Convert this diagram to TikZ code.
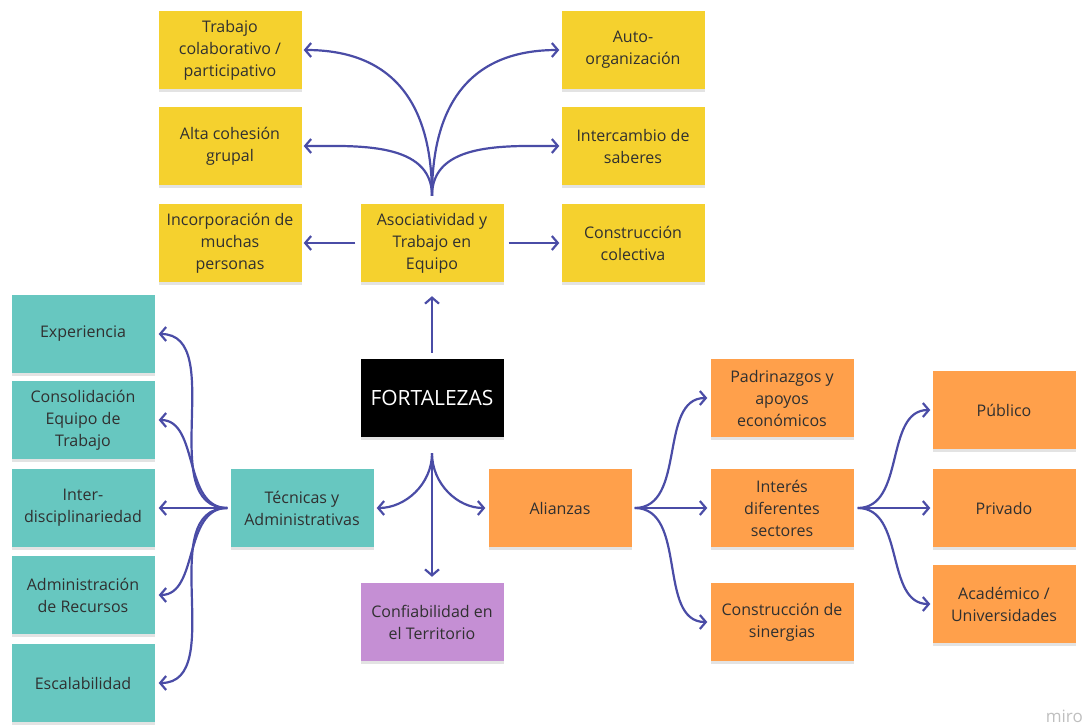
\documentclass[tikz,border=0pt]{standalone}
\usepackage{fontspec}
\setmainfont{Open Sans}
\usetikzlibrary{arrows.meta,shadows}
\definecolor{postyellow}{HTML}{F5D12E}
\definecolor{postteal}{HTML}{67C7C0}
\definecolor{postorange}{HTML}{FFA04B}
\definecolor{postviolet}{HTML}{C58FD4}
\definecolor{linkblue}{HTML}{4A4CA6}
\definecolor{notetext}{HTML}{303030}
\begin{document}
\begin{tikzpicture}[x=1pt, y=-1pt,
		note/.style={minimum width=143pt, minimum height=78pt, inner sep=2pt, align=center,
			font=\fontsize{16}{22}\selectfont, text=notetext,
			drop shadow={shadow xshift=0pt, shadow yshift=-3pt, opacity=.22}},
		yellownote/.style={note, fill=postyellow},
		tealnote/.style={note, fill=postteal},
		orangenote/.style={note, fill=postorange},
		violetnote/.style={note, fill=postviolet},
		darknote/.style={note, fill=black, text=white, font=\fontsize{21}{24}\selectfont},
		arr/.style={draw=linkblue, line width=2.2pt, shorten >=2pt,
			-{Straight Barb[length=6pt, width=14pt]}}]
		\useasboundingbox (0,0) rectangle (1085,726);

		\node[yellownote] (trabajo) at (230,50) {Trabajo\\colaborativo /\\participativo};
		\node[yellownote] (cohesion) at (230,146) {Alta cohesión\\grupal};
		\node[yellownote] (incorp) at (230,243) {Incorporación de\\muchas\\personas};
		\node[yellownote] (asoc) at (432,243) {Asociatividad y\\Trabajo en\\Equipo};
		\node[yellownote] (autoorg) at (633,50) {Auto-\\organización};
		\node[yellownote] (intercambio) at (633,146) {Intercambio de\\saberes};
		\node[yellownote] (colectiva) at (633,243) {Construcción\\colectiva};

		\node[darknote] (fort) at (432,398) {FORTALEZAS};
		\node[violetnote] (confiab) at (432,622) {Confiabilidad en\\el Territorio};

		\node[tealnote] (tecnicas) at (302,508) {Técnicas y\\Administrativas};
		\node[tealnote] (experiencia) at (83,334) {Experiencia};
		\node[tealnote] (consol) at (83,420) {Consolidación\\Equipo de\\Trabajo};
		\node[tealnote] (interdis) at (83,508) {Inter-\\disciplinariedad};
		\node[tealnote] (admrec) at (83,595) {Administración\\de Recursos};
		\node[tealnote] (escala) at (83,683) {Escalabilidad};

		\node[orangenote] (alianzas) at (560,508) {Alianzas};
		\node[orangenote] (padrin) at (782,398) {Padrinazgos y\\apoyos\\económicos};
		\node[orangenote] (interes) at (782,508) {Interés\\diferentes\\sectores};
		\node[orangenote] (sinergias) at (782,622) {Construcción de\\sinergias};
		\node[orangenote] (publico) at (1004,410) {Público};
		\node[orangenote] (privado) at (1004,508) {Privado};
		\node[orangenote] (academico) at (1004,604) {Académico /\\Universidades};

		\node[text=gray!50, font=\fontsize{17}{17}\selectfont, anchor=east, inner sep=0pt] (miro) at (1083,716) {miro};

		\coordinate (asoctop) at ([yshift=8pt]asoc.north);
		\coordinate (fortfoot) at ([yshift=-16pt]fort.south);
		\coordinate (tecfoot) at ([xshift=-3pt]tecnicas.west);
		\coordinate (alifoot) at ([xshift=3pt]alianzas.east);
		\coordinate (intfoot) at ([xshift=4pt]interes.east);

		\draw[arr] (asoctop) to[out=90, in=0, looseness=1.2] (trabajo.east);
		\draw[arr] (asoctop) to[out=90, in=0] (cohesion.east);
		\draw[arr] (asoctop) to[out=90, in=180, looseness=1.2] (autoorg.west);
		\draw[arr] (asoctop) to[out=90, in=180] (intercambio.west);
		\draw[arr, shorten <=5pt] (asoc.west) -- (incorp.east);
		\draw[arr, shorten <=5pt] (asoc.east) -- (colectiva.west);

		\draw[arr, shorten <=6pt, shorten >=14pt] (fort.north) -- (asoc.south);
		\draw[arr, shorten >=3pt] (fortfoot) to[out=-90, in=0] (tecnicas.east);
		\draw[arr, shorten >=3pt] (fortfoot) to[out=-90, in=180] (alianzas.west);
		\draw[arr, shorten >=6pt] (fortfoot) -- (confiab.north);

		\draw[arr, shorten >=4pt] (tecfoot) to[out=180, in=0] (experiencia.east);
		\draw[arr, shorten >=4pt] (tecfoot) to[out=180, in=0] (consol.east);
		\draw[arr, shorten >=4pt] (tecfoot) -- (interdis.east);
		\draw[arr, shorten >=4pt] (tecfoot) to[out=180, in=0] (admrec.east);
		\draw[arr, shorten >=4pt] (tecfoot) to[out=180, in=0] (escala.east);

		\draw[arr, shorten >=3pt] (alifoot) to[out=0, in=180] (padrin.west);
		\draw[arr, shorten >=3pt] (alifoot) -- (interes.west);
		\draw[arr, shorten >=3pt] (alifoot) to[out=0, in=180] (sinergias.west);

		\draw[arr] (intfoot) to[out=0, in=180] (publico.west);
		\draw[arr] (intfoot) -- (privado.west);
		\draw[arr] (intfoot) to[out=0, in=180] (academico.west);
	\end{tikzpicture}
\end{document}
